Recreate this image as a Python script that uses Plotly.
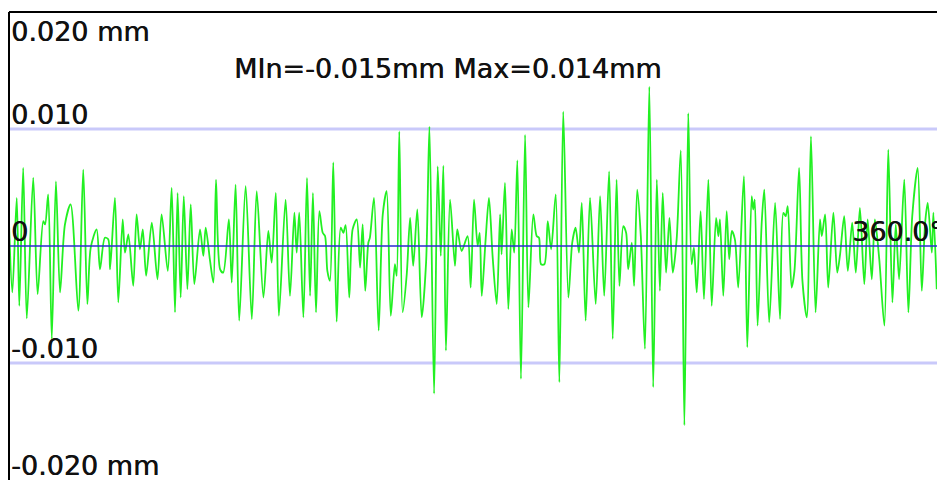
import plotly.graph_objects as go

# Roundness trace: angular position (deg) and radial deviation (mm)
angle_deg = [
    0.0, 1.3, 3.0, 4.0, 5.5, 6.9, 9.4, 11.1, 13.3, 14.0, 15.2, 16.6, 18.2, 19.8, 21.7, 23.9,
    26.9, 28.8, 30.4, 31.7, 34.0, 35.3, 37.2, 38.5, 39.2, 41.1, 42.4, 44.1, 45.0, 46.3, 48.2,
    49.5, 50.8, 51.9, 53.2, 55.4, 57.6,
    59.2, 61.6, 63.1, 64.4, 65.4, 66.6, 67.8, 69.2, 70.5, 71.9, 74.1, 75.4, 76.3, 78.0, 79.3,
    80.3, 81.9, 83.1, 85.3, 86.4, 87.9, 89.3, 91.8, 94.2, 96.1, 98.7, 100.6, 101.9, 103.5,
    104.7, 107.3, 109.0, 110.7, 111.6, 112.6, 114.2, 115.6, 116.8, 117.9,
    119.1, 120.4, 121.7, 122.6, 123.5, 124.5, 125.8, 127.1, 128.7, 129.7, 130.6, 132.0, 133.3,
    134.9, 136.2, 137.2, 138.2, 139.4, 140.0, 141.6, 143.4, 145.0, 146.5, 148.1, 149.7, 150.4,
    151.4, 152.7, 154.3, 155.6, 156.8, 158.4, 160.1, 161.8, 163.1, 164.9, 166.3, 167.5, 168.5,
    169.5, 171.1, 173.0, 173.9, 175.6,
    177.9, 179.1, 180.4, 181.8, 182.6, 183.4, 184.9, 186.2, 187.6, 189.2, 190.5, 191.1, 192.4,
    193.7, 195.0, 196.0, 197.2, 198.6, 200.2, 201.5, 203.4, 204.7, 205.6, 206.4, 207.7, 209.0,
    210.3, 212.1, 213.5, 215.0, 217.0, 218.5, 219.8, 221.1, 222.2, 223.7, 225.4, 227.6, 229.3,
    230.9, 232.8, 234.2, 235.7, 236.8, 238.3,
    239.4, 240.2, 241.6, 242.5, 243.7, 245.1, 246.7, 248.4, 249.9, 251.3, 252.5, 253.6, 254.9,
    256.2, 257.5, 259.0, 260.6, 262.0, 263.5, 264.8, 265.7, 266.8, 268.3, 269.6, 271.3, 272.6,
    274.3, 275.2, 275.8, 277.1, 278.4, 279.4, 280.4, 281.6, 282.9, 285.1, 286.4, 288.1, 288.7,
    289.3, 290.4, 292.0, 293.0, 294.9, 297.2,
    299.1, 300.4, 301.3, 302.1, 303.6, 304.7, 306.5, 307.8, 309.5, 311.1, 312.9, 314.6, 315.3,
    316.6, 317.8, 319.8, 321.3, 322.4, 324.0, 325.4, 327.1, 328.5, 330.1, 331.8, 333.1, 334.7,
    335.9, 337.6, 339.6, 341.1, 342.7, 344.0, 345.3, 347.3, 348.9, 350.4, 352.5, 354.1, 355.4,
    356.4, 358.0, 358.6, 359.9,
]

deviation_mm = [
    0.00199, -0.00397, 0.00411, -0.00511, 0.00667, -0.00618, 0.00582, -0.00411, 0.00213,
    0.00184, 0.00440, -0.00794, 0.00553, -0.00397, 0.00184, 0.00355, -0.00553, 0.00652,
    -0.00496, -0.00014, 0.00142, -0.00199, 0.00071, 0.00057, -0.00199, 0.00411, -0.00482,
    0.00227, -0.00057, 0.00099, -0.00340, 0.00270, -0.00028, 0.00142, -0.00255, 0.00199,
    -0.00284,
    0.00270, -0.00213, 0.00496, -0.00567, 0.00454, -0.00440, 0.00426, -0.00369, 0.00355,
    -0.00326, 0.00142, -0.00085, 0.00156, -0.00128, -0.00312, 0.00567, -0.00199, -0.00227,
    0.00227, -0.00312, 0.00525, -0.00638, 0.00511, -0.00624, 0.00468, -0.00440, 0.00128,
    -0.00142, 0.00454, -0.00596, 0.00397, -0.00426, 0.00284, -0.00057, 0.00284, -0.00610,
    0.00582, -0.00426, 0.00454,
    -0.00567, 0.00298, 0.00113, 0.00085, -0.00213, -0.00298, 0.00715, -0.00647, 0.00156,
    0.00113, 0.00179, -0.00440, 0.00142, 0.00227, -0.00184, 0.00184, -0.00383, 0.00028,
    0.00071, 0.00411, -0.00723, 0.00270, 0.00468, -0.00596, -0.00156, -0.00255, 0.00979,
    -0.00567, -0.00241, 0.00241, -0.00170, 0.00312, -0.00610, -0.00142, 0.01021, -0.01262,
    0.00681, -0.00085, 0.00687, -0.00894, 0.00397, -0.00170, 0.00142, -0.00043,
    0.00085, -0.00355, 0.00397, 0.00000, 0.00113, -0.00426, 0.00057, 0.00411, -0.00085,
    -0.00496, 0.00270, -0.00071, 0.00539, -0.00539, 0.00142, -0.00057, 0.00732, -0.01135,
    0.00950, -0.00525, 0.00270, 0.00085, 0.00071, -0.00156, -0.00156, 0.00213, -0.00028,
    0.00440, -0.01163, 0.01149, -0.00440, 0.00028, 0.00156, -0.00057, 0.00369, -0.00638,
    0.00411, -0.00496, 0.00426, -0.00426, 0.00638, -0.00794, 0.00567, -0.00340, 0.00170,
    0.00113, -0.00199, 0.00028, -0.00340, 0.00482, 0.00085, -0.00879, 0.01362, -0.01206,
    0.00567, -0.00383, 0.00454, -0.00227, 0.00241, -0.00227, 0.00057, 0.00817, -0.01532,
    0.01135, -0.00156, -0.00014, -0.00397, 0.00298, -0.00454, 0.00567, -0.00511, 0.00241,
    0.00085, 0.00227, -0.00426, 0.00298, -0.00113, 0.00128, 0.00057, -0.00355, 0.00596,
    -0.00865, 0.00426, 0.00312, 0.00397, -0.00681, 0.00199, 0.00482, -0.00652, 0.00369,
    -0.00624, 0.00284, 0.00255, 0.00340, -0.00355, -0.00213, 0.00667, -0.00298, -0.00610,
    0.00936, -0.00567, 0.00227, 0.00085, 0.00270, -0.00355, 0.00284, -0.00227, -0.00071,
    0.00255, -0.00213, 0.00199, -0.00227, 0.00326, -0.00326, 0.00227, -0.00284, 0.00227,
    -0.00113, -0.00681, 0.00823, -0.00482, 0.00184, -0.00284, 0.00567, -0.00567, 0.00255,
    0.00667, -0.00383, 0.00199, 0.00369, -0.00057, 0.00284, -0.00369,
]

# Axis scale labels
y_ticks = [0.020, 0.010, 0.0, -0.010, -0.020]
y_tick_text = ["0.020 mm", "0.010", "0", "-0.010", "-0.020 mm"]
grid_levels = [0.010, -0.010]
angle_end_text = "360.0°"
title_text = "MIn=-0.015mm Max=0.014mm"

# Regular face with a thin horizontal shadow for a slightly heavier stroke
FONT = dict(family="DejaVu Sans", size=27, color="#111111",
            shadow="0.5px 0px 0px #111111")

fig = go.Figure()

fig.add_trace(go.Scatter(
    x=angle_deg, y=deviation_mm, mode="lines",
    line=dict(color="#22f022", width=1.8, shape="spline", smoothing=0.8),
    hoverinfo="skip", showlegend=False,
))

# Zero reference line drawn above the trace
fig.add_trace(go.Scatter(
    x=[0, 360], y=[0, 0], mode="lines",
    line=dict(color="#2a2ad0", width=1.5),
    hoverinfo="skip", showlegend=False,
))

shapes = []
for g in grid_levels:
    shapes.append(dict(type="line", xref="paper", x0=0, x1=1, yref="y", y0=g, y1=g,
                       line=dict(color="#c9c9fa", width=3), layer="below"))
# Frame: left and top border
shapes.append(dict(type="line", xref="paper", yref="paper", x0=0, x1=0, y0=0, y1=1,
                   line=dict(color="black", width=2)))
shapes.append(dict(type="line", xref="paper", yref="paper", x0=0, x1=1, y0=1, y1=1,
                   line=dict(color="black", width=2)))

annotations = []
for v, t in zip(y_ticks, y_tick_text):
    if v == max(y_ticks):
        annotations.append(dict(x=0, xref="paper", y=v, yref="y", text=t, showarrow=False,
                                xanchor="left", yanchor="middle", yshift=-19, font=FONT))
    else:
        annotations.append(dict(x=0, xref="paper", y=v, yref="y", text=t, showarrow=False,
                                xanchor="left", yanchor="middle", yshift=15, font=FONT))
annotations.append(dict(x=0.906, xref="paper", y=0, yref="y", text=angle_end_text,
                        showarrow=False, xanchor="left", yanchor="middle", yshift=15, font=FONT))
annotations.append(dict(x=0.473, xref="paper", y=0.88, yref="paper", text=title_text,
                        showarrow=False, xanchor="center", yanchor="middle", font=FONT))

fig.update_layout(
    width=937, height=480,
    margin=dict(l=9, r=0, t=12, b=0),
    paper_bgcolor="white", plot_bgcolor="white",
    xaxis=dict(range=[0, 360], visible=False, fixedrange=True),
    yaxis=dict(range=[-0.020, 0.020], visible=False, fixedrange=True),
    shapes=shapes, annotations=annotations,
)

fig.write_html("out.html")
